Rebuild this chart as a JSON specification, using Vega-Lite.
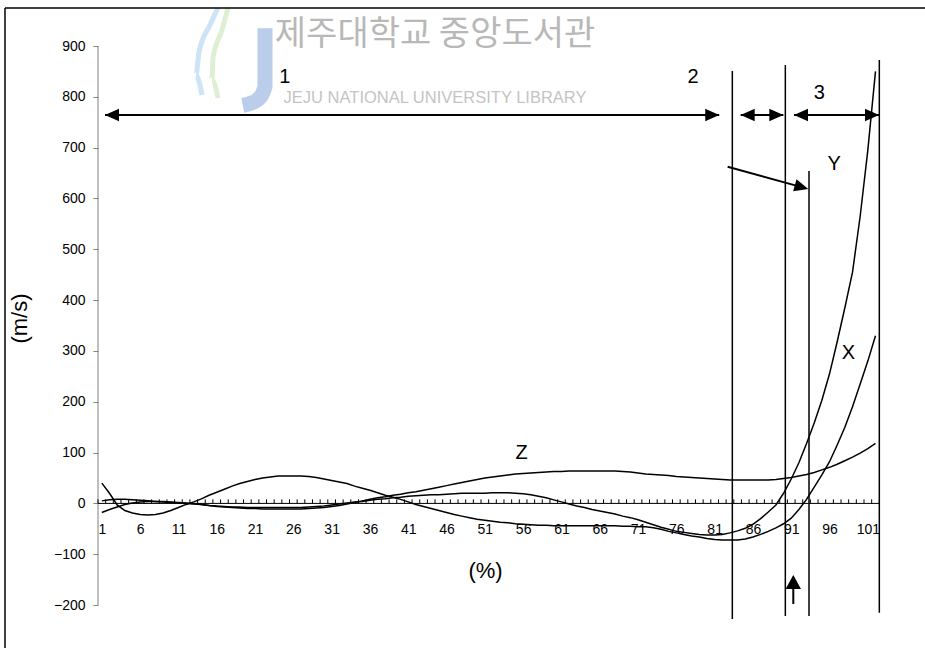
{
  "$schema": "https://vega.github.io/schema/vega-lite/v6.json",
  "width": 920,
  "height": 640,
  "autosize": {"type": "none"},
  "padding": {"left": 5, "top": 8, "right": 0, "bottom": 0},
  "background": "#ffffff",
  "config": {"view": {"stroke": null}, "font": "Liberation Sans", "axis": {"grid": false}},
  "datasets": {
    "curves": [
      {"s":"X","x":1,"y":40},{"s":"X","x":2,"y":20},{"s":"X","x":3,"y":-3},{"s":"X","x":4,"y":-14},{"s":"X","x":5,"y":-19},{"s":"X","x":6,"y":-22},{"s":"X","x":7,"y":-23},{"s":"X","x":8,"y":-22},{"s":"X","x":9,"y":-19},{"s":"X","x":10,"y":-14},
      {"s":"X","x":11,"y":-8},{"s":"X","x":12,"y":-2},{"s":"X","x":13,"y":3},{"s":"X","x":14,"y":9},{"s":"X","x":15,"y":16},{"s":"X","x":16,"y":22},{"s":"X","x":17,"y":28},{"s":"X","x":18,"y":34},{"s":"X","x":19,"y":39},{"s":"X","x":20,"y":43},
      {"s":"X","x":21,"y":47},{"s":"X","x":22,"y":50},{"s":"X","x":23,"y":52},{"s":"X","x":24,"y":54},{"s":"X","x":25,"y":54},{"s":"X","x":26,"y":54},{"s":"X","x":27,"y":54},{"s":"X","x":28,"y":53},{"s":"X","x":29,"y":51},{"s":"X","x":30,"y":48},
      {"s":"X","x":31,"y":45},{"s":"X","x":32,"y":42},{"s":"X","x":33,"y":39},{"s":"X","x":34,"y":34},{"s":"X","x":35,"y":30},{"s":"X","x":36,"y":26},{"s":"X","x":37,"y":21},{"s":"X","x":38,"y":16},{"s":"X","x":39,"y":12},{"s":"X","x":40,"y":8},
      {"s":"X","x":41,"y":3},{"s":"X","x":42,"y":-2},{"s":"X","x":43,"y":-6},{"s":"X","x":44,"y":-10},{"s":"X","x":45,"y":-14},{"s":"X","x":46,"y":-18},{"s":"X","x":47,"y":-22},{"s":"X","x":48,"y":-25},{"s":"X","x":49,"y":-28},{"s":"X","x":50,"y":-31},
      {"s":"X","x":51,"y":-33},{"s":"X","x":52,"y":-35},{"s":"X","x":53,"y":-37},{"s":"X","x":54,"y":-38},{"s":"X","x":55,"y":-40},{"s":"X","x":56,"y":-41},{"s":"X","x":57,"y":-42},{"s":"X","x":58,"y":-43},{"s":"X","x":59,"y":-43},{"s":"X","x":60,"y":-44},
      {"s":"X","x":61,"y":-44},{"s":"X","x":62,"y":-44},{"s":"X","x":63,"y":-44},{"s":"X","x":64,"y":-44},{"s":"X","x":65,"y":-44},{"s":"X","x":66,"y":-44},{"s":"X","x":67,"y":-44},{"s":"X","x":68,"y":-44},{"s":"X","x":69,"y":-45},{"s":"X","x":70,"y":-45},
      {"s":"X","x":71,"y":-46},{"s":"X","x":72,"y":-46},{"s":"X","x":73,"y":-48},{"s":"X","x":74,"y":-51},{"s":"X","x":75,"y":-55},{"s":"X","x":76,"y":-58},{"s":"X","x":77,"y":-61},{"s":"X","x":78,"y":-64},{"s":"X","x":79,"y":-66},{"s":"X","x":80,"y":-69},
      {"s":"X","x":81,"y":-71},{"s":"X","x":82,"y":-72},{"s":"X","x":83,"y":-72},{"s":"X","x":84,"y":-72},{"s":"X","x":85,"y":-70},{"s":"X","x":86,"y":-66},{"s":"X","x":87,"y":-61},{"s":"X","x":88,"y":-55},{"s":"X","x":89,"y":-48},{"s":"X","x":90,"y":-40},
      {"s":"X","x":91,"y":-29},{"s":"X","x":92,"y":-12},{"s":"X","x":93,"y":8},{"s":"X","x":94,"y":32},{"s":"X","x":95,"y":56},{"s":"X","x":96,"y":82},{"s":"X","x":97,"y":115},{"s":"X","x":98,"y":150},{"s":"X","x":99,"y":190},{"s":"X","x":100,"y":235},
      {"s":"X","x":101,"y":280},{"s":"X","x":102,"y":330},
      {"s":"Y","x":1,"y":5},{"s":"Y","x":2,"y":7},{"s":"Y","x":3,"y":8},{"s":"Y","x":4,"y":8},{"s":"Y","x":5,"y":7},{"s":"Y","x":6,"y":6},{"s":"Y","x":7,"y":5},{"s":"Y","x":8,"y":4},{"s":"Y","x":9,"y":3},{"s":"Y","x":10,"y":2},
      {"s":"Y","x":11,"y":1},{"s":"Y","x":12,"y":0},{"s":"Y","x":13,"y":-1},{"s":"Y","x":14,"y":-2},{"s":"Y","x":15,"y":-4},{"s":"Y","x":16,"y":-5},{"s":"Y","x":17,"y":-6},{"s":"Y","x":18,"y":-7},{"s":"Y","x":19,"y":-7},{"s":"Y","x":20,"y":-8},
      {"s":"Y","x":21,"y":-8},{"s":"Y","x":22,"y":-8},{"s":"Y","x":23,"y":-8},{"s":"Y","x":24,"y":-8},{"s":"Y","x":25,"y":-8},{"s":"Y","x":26,"y":-8},{"s":"Y","x":27,"y":-8},{"s":"Y","x":28,"y":-7},{"s":"Y","x":29,"y":-6},{"s":"Y","x":30,"y":-5},
      {"s":"Y","x":31,"y":-3},{"s":"Y","x":32,"y":-1},{"s":"Y","x":33,"y":1},{"s":"Y","x":34,"y":3},{"s":"Y","x":35,"y":4},{"s":"Y","x":36,"y":6},{"s":"Y","x":37,"y":8},{"s":"Y","x":38,"y":9},{"s":"Y","x":39,"y":11},{"s":"Y","x":40,"y":12},
      {"s":"Y","x":41,"y":14},{"s":"Y","x":42,"y":15},{"s":"Y","x":43,"y":16},{"s":"Y","x":44,"y":17},{"s":"Y","x":45,"y":17},{"s":"Y","x":46,"y":18},{"s":"Y","x":47,"y":19},{"s":"Y","x":48,"y":20},{"s":"Y","x":49,"y":20},{"s":"Y","x":50,"y":20},
      {"s":"Y","x":51,"y":20},{"s":"Y","x":52,"y":21},{"s":"Y","x":53,"y":21},{"s":"Y","x":54,"y":21},{"s":"Y","x":55,"y":20},{"s":"Y","x":56,"y":19},{"s":"Y","x":57,"y":17},{"s":"Y","x":58,"y":14},{"s":"Y","x":59,"y":11},{"s":"Y","x":60,"y":7},
      {"s":"Y","x":61,"y":3},{"s":"Y","x":62,"y":-1},{"s":"Y","x":63,"y":-5},{"s":"Y","x":64,"y":-8},{"s":"Y","x":65,"y":-12},{"s":"Y","x":66,"y":-15},{"s":"Y","x":67,"y":-18},{"s":"Y","x":68,"y":-21},{"s":"Y","x":69,"y":-25},{"s":"Y","x":70,"y":-28},
      {"s":"Y","x":71,"y":-32},{"s":"Y","x":72,"y":-37},{"s":"Y","x":73,"y":-42},{"s":"Y","x":74,"y":-47},{"s":"Y","x":75,"y":-51},{"s":"Y","x":76,"y":-55},{"s":"Y","x":77,"y":-57},{"s":"Y","x":78,"y":-59},{"s":"Y","x":79,"y":-61},{"s":"Y","x":80,"y":-62},
      {"s":"Y","x":81,"y":-62},{"s":"Y","x":82,"y":-61},{"s":"Y","x":83,"y":-58},{"s":"Y","x":84,"y":-54},{"s":"Y","x":85,"y":-49},{"s":"Y","x":86,"y":-41},{"s":"Y","x":87,"y":-30},{"s":"Y","x":88,"y":-17},{"s":"Y","x":89,"y":-3},{"s":"Y","x":90,"y":20},
      {"s":"Y","x":91,"y":48},{"s":"Y","x":92,"y":80},{"s":"Y","x":93,"y":118},{"s":"Y","x":94,"y":158},{"s":"Y","x":95,"y":203},{"s":"Y","x":96,"y":255},{"s":"Y","x":97,"y":318},{"s":"Y","x":98,"y":385},{"s":"Y","x":99,"y":455},{"s":"Y","x":100,"y":565},
      {"s":"Y","x":101,"y":695},{"s":"Y","x":102,"y":850},
      {"s":"Z","x":1,"y":-18},{"s":"Z","x":2,"y":-12},{"s":"Z","x":3,"y":-7},{"s":"Z","x":4,"y":-2},{"s":"Z","x":5,"y":1},{"s":"Z","x":6,"y":3},{"s":"Z","x":7,"y":4},{"s":"Z","x":8,"y":4},{"s":"Z","x":9,"y":4},{"s":"Z","x":10,"y":3},
      {"s":"Z","x":11,"y":2},{"s":"Z","x":12,"y":1},{"s":"Z","x":13,"y":0},{"s":"Z","x":14,"y":-2},{"s":"Z","x":15,"y":-4},{"s":"Z","x":16,"y":-6},{"s":"Z","x":17,"y":-7},{"s":"Z","x":18,"y":-8},{"s":"Z","x":19,"y":-9},{"s":"Z","x":20,"y":-10},
      {"s":"Z","x":21,"y":-10},{"s":"Z","x":22,"y":-11},{"s":"Z","x":23,"y":-11},{"s":"Z","x":24,"y":-11},{"s":"Z","x":25,"y":-11},{"s":"Z","x":26,"y":-11},{"s":"Z","x":27,"y":-11},{"s":"Z","x":28,"y":-10},{"s":"Z","x":29,"y":-9},{"s":"Z","x":30,"y":-8},
      {"s":"Z","x":31,"y":-6},{"s":"Z","x":32,"y":-4},{"s":"Z","x":33,"y":-1},{"s":"Z","x":34,"y":2},{"s":"Z","x":35,"y":5},{"s":"Z","x":36,"y":8},{"s":"Z","x":37,"y":11},{"s":"Z","x":38,"y":13},{"s":"Z","x":39,"y":16},{"s":"Z","x":40,"y":18},
      {"s":"Z","x":41,"y":21},{"s":"Z","x":42,"y":23},{"s":"Z","x":43,"y":26},{"s":"Z","x":44,"y":29},{"s":"Z","x":45,"y":32},{"s":"Z","x":46,"y":35},{"s":"Z","x":47,"y":38},{"s":"Z","x":48,"y":41},{"s":"Z","x":49,"y":44},{"s":"Z","x":50,"y":47},
      {"s":"Z","x":51,"y":50},{"s":"Z","x":52,"y":52},{"s":"Z","x":53,"y":54},{"s":"Z","x":54,"y":56},{"s":"Z","x":55,"y":58},{"s":"Z","x":56,"y":59},{"s":"Z","x":57,"y":60},{"s":"Z","x":58,"y":61},{"s":"Z","x":59,"y":62},{"s":"Z","x":60,"y":63},
      {"s":"Z","x":61,"y":63},{"s":"Z","x":62,"y":64},{"s":"Z","x":63,"y":64},{"s":"Z","x":64,"y":64},{"s":"Z","x":65,"y":64},{"s":"Z","x":66,"y":64},{"s":"Z","x":67,"y":64},{"s":"Z","x":68,"y":64},{"s":"Z","x":69,"y":63},{"s":"Z","x":70,"y":62},
      {"s":"Z","x":71,"y":60},{"s":"Z","x":72,"y":58},{"s":"Z","x":73,"y":57},{"s":"Z","x":74,"y":56},{"s":"Z","x":75,"y":55},{"s":"Z","x":76,"y":53},{"s":"Z","x":77,"y":52},{"s":"Z","x":78,"y":51},{"s":"Z","x":79,"y":50},{"s":"Z","x":80,"y":49},
      {"s":"Z","x":81,"y":48},{"s":"Z","x":82,"y":47},{"s":"Z","x":83,"y":46},{"s":"Z","x":84,"y":46},{"s":"Z","x":85,"y":46},{"s":"Z","x":86,"y":46},{"s":"Z","x":87,"y":46},{"s":"Z","x":88,"y":46},{"s":"Z","x":89,"y":47},{"s":"Z","x":90,"y":49},
      {"s":"Z","x":91,"y":51},{"s":"Z","x":92,"y":54},{"s":"Z","x":93,"y":57},{"s":"Z","x":94,"y":61},{"s":"Z","x":95,"y":66},{"s":"Z","x":96,"y":71},{"s":"Z","x":97,"y":77},{"s":"Z","x":98,"y":84},{"s":"Z","x":99,"y":91},{"s":"Z","x":100,"y":99},
      {"s":"Z","x":101,"y":108},{"s":"Z","x":102,"y":118}
    ],
    "xticks": [
      {"x":0.5,"y":0},{"x":1.5,"y":0},{"x":2.5,"y":0},{"x":3.5,"y":0},{"x":4.5,"y":0},{"x":5.5,"y":0},{"x":6.5,"y":0},{"x":7.5,"y":0},{"x":8.5,"y":0},{"x":9.5,"y":0},{"x":10.5,"y":0},
      {"x":11.5,"y":0},{"x":12.5,"y":0},{"x":13.5,"y":0},{"x":14.5,"y":0},{"x":15.5,"y":0},{"x":16.5,"y":0},{"x":17.5,"y":0},{"x":18.5,"y":0},{"x":19.5,"y":0},{"x":20.5,"y":0},
      {"x":21.5,"y":0},{"x":22.5,"y":0},{"x":23.5,"y":0},{"x":24.5,"y":0},{"x":25.5,"y":0},{"x":26.5,"y":0},{"x":27.5,"y":0},{"x":28.5,"y":0},{"x":29.5,"y":0},{"x":30.5,"y":0},
      {"x":31.5,"y":0},{"x":32.5,"y":0},{"x":33.5,"y":0},{"x":34.5,"y":0},{"x":35.5,"y":0},{"x":36.5,"y":0},{"x":37.5,"y":0},{"x":38.5,"y":0},{"x":39.5,"y":0},{"x":40.5,"y":0},
      {"x":41.5,"y":0},{"x":42.5,"y":0},{"x":43.5,"y":0},{"x":44.5,"y":0},{"x":45.5,"y":0},{"x":46.5,"y":0},{"x":47.5,"y":0},{"x":48.5,"y":0},{"x":49.5,"y":0},{"x":50.5,"y":0},
      {"x":51.5,"y":0},{"x":52.5,"y":0},{"x":53.5,"y":0},{"x":54.5,"y":0},{"x":55.5,"y":0},{"x":56.5,"y":0},{"x":57.5,"y":0},{"x":58.5,"y":0},{"x":59.5,"y":0},{"x":60.5,"y":0},
      {"x":61.5,"y":0},{"x":62.5,"y":0},{"x":63.5,"y":0},{"x":64.5,"y":0},{"x":65.5,"y":0},{"x":66.5,"y":0},{"x":67.5,"y":0},{"x":68.5,"y":0},{"x":69.5,"y":0},{"x":70.5,"y":0},
      {"x":71.5,"y":0},{"x":72.5,"y":0},{"x":73.5,"y":0},{"x":74.5,"y":0},{"x":75.5,"y":0},{"x":76.5,"y":0},{"x":77.5,"y":0},{"x":78.5,"y":0},{"x":79.5,"y":0},{"x":80.5,"y":0},
      {"x":81.5,"y":0},{"x":82.5,"y":0},{"x":83.5,"y":0},{"x":84.5,"y":0},{"x":85.5,"y":0},{"x":86.5,"y":0},{"x":87.5,"y":0},{"x":88.5,"y":0},{"x":89.5,"y":0},{"x":90.5,"y":0},
      {"x":91.5,"y":0},{"x":92.5,"y":0},{"x":93.5,"y":0},{"x":94.5,"y":0},{"x":95.5,"y":0},{"x":96.5,"y":0},{"x":97.5,"y":0},{"x":98.5,"y":0},{"x":99.5,"y":0},{"x":100.5,"y":0},
      {"x":101.5,"y":0},{"x":102.5,"y":0}
    ],
    "frame": [
      {"x": -11.641, "x2": -11.641, "y": -284.5, "y2": 974.8},
      {"x": -11.641, "x2": 108.463, "y": 974.8, "y2": 974.8}
    ],
    "yaxisline": [{"x": 0.5, "x2": 0.5, "y": -200, "y2": 900}],
    "xaxisline": [{"x": 0.5, "x2": 102.5, "y": 0, "y2": 0}],
    "vlines": [
      {"x": 83.31, "x2": 83.31, "y": -227.5, "y2": 850.9},
      {"x": 90.23, "x2": 90.23, "y": -221.6, "y2": 862.7},
      {"x": 93.32, "x2": 93.32, "y": -221.6, "y2": 654.1},
      {"x": 102.5, "x2": 102.5, "y": -215.1, "y2": 872.5}
    ],
    "shafts": [
      {"x": 1.41, "x2": 81.6, "y": 764.3, "y2": 764.3},
      {"x": 84.4, "x2": 89.97, "y": 764.3, "y2": 764.3},
      {"x": 91.36, "x2": 102.46, "y": 764.3, "y2": 764.3},
      {"x": 82.7, "x2": 92.6, "y": 662.6, "y2": 621.3},
      {"x": 91.27, "x2": 91.27, "y": -198, "y2": -145}
    ],
    "heads": [
      {"x": 1.41, "y": 764.3, "dir": "left"},
      {"x": 81.6, "y": 764.3, "dir": "right"},
      {"x": 84.4, "y": 764.3, "dir": "left"},
      {"x": 89.97, "y": 764.3, "dir": "right"},
      {"x": 91.36, "y": 764.3, "dir": "left"},
      {"x": 102.46, "y": 764.3, "dir": "right"},
      {"x": 91.27, "y": -140.9, "dir": "up"}
    ],
    "diaghead": [{"x": 93.23, "y": 618.7}],
    "ann": [
      {"x": 24.9, "y": 839, "t": "1"},
      {"x": 78.2, "y": 839, "t": "2"},
      {"x": 94.67, "y": 807, "t": "3"},
      {"x": 96.6, "y": 668, "t": "Y"},
      {"x": 98.45, "y": 296.5, "t": "X"},
      {"x": 55.8, "y": 98.6, "t": "Z"}
    ],
    "wmk": [{"x": 44.5, "y": 921, "t": "제주대학교 중앙도서관"}],
    "wme": [{"x": 44.5, "y": 797, "t": "JEJU NATIONAL UNIVERSITY LIBRARY"}],
    "logoj": [
      {"p": 1, "x": 22.3, "y": 935},
      {"p": 2, "x": 22.3, "y": 820},
      {"p": 3, "x": 21.4, "y": 795},
      {"p": 4, "x": 19.4, "y": 783}
    ],
    "swoosh": [
      {"k": "b", "p": 1, "x": 16.17, "y": 975},
      {"k": "b", "p": 2, "x": 15.12, "y": 941.4},
      {"k": "b", "p": 3, "x": 13.69, "y": 888.2},
      {"k": "b", "p": 4, "x": 13.29, "y": 843.0},
      {"k": "b", "p": 5, "x": 14.08, "y": 803.6},
      {"k": "g", "p": 1, "x": 17.47, "y": 975},
      {"k": "g", "p": 2, "x": 16.69, "y": 931.6},
      {"k": "g", "p": 3, "x": 15.51, "y": 876.5},
      {"k": "g", "p": 4, "x": 15.38, "y": 833.2},
      {"k": "g", "p": 5, "x": 16.17, "y": 797.8}
    ]
  },
  "encoding": {
    "x": {
      "field": "x", "type": "quantitative",
      "scale": {"domain": [-11.641, 108.463], "nice": false, "zero": false},
      "axis": {
        "orient": "bottom", "offset": -144.6, "domain": false, "grid": false, "ticks": false,
        "values": [1,6,11,16,21,26,31,36,41,46,51,56,61,66,71,76,81,86,91,96,101],
        "labelFontSize": 14, "labelColor": "#000000", "labelPadding": 19,
        "labelOverlap": false, "labelFlush": false, "labelBound": false,
        "title": "(%)", "titleFontSize": 22, "titleFontWeight": "normal", "titleColor": "#000000", "titlePadding": 24, "titleX": 480
      }
    },
    "y": {
      "field": "y", "type": "quantitative",
      "scale": {"domain": [-284.5, 974.8], "nice": false, "zero": false},
      "axis": {
        "orient": "left", "offset": -93, "domain": false, "grid": false,
        "values": [-200,-100,0,100,200,300,400,500,600,700,800,900],
        "tickSize": 5, "tickColor": "#808080", "tickWidth": 1,
        "labelFontSize": 14, "labelColor": "#000000", "labelPadding": 8,
        "title": "(m/s)", "titleFontSize": 22, "titleFontWeight": "normal", "titleColor": "#000000", "titlePadding": 22, "titleY": 310
      }
    }
  },
  "layer": [
    {"data": {"name": "swoosh"}, "mark": {"type": "line", "strokeWidth": 5, "opacity": 0.45, "interpolate": "monotone"}, "encoding": {"order": {"field": "p"}, "color": {"field": "k", "type": "nominal", "legend": null, "scale": {"domain": ["b", "g"], "range": ["#8fc3ec", "#b9dba0"]}}}},
    {"data": {"name": "logoj"}, "mark": {"type": "line", "strokeWidth": 15, "color": "#a9c0e6", "opacity": 0.8, "interpolate": "monotone", "strokeCap": "butt"}, "encoding": {"order": {"field": "p"}}},
    {"data": {"name": "wmk"}, "mark": {"type": "text", "fontSize": 34, "fontWeight": "normal", "font": "Noto Sans CJK KR", "color": "#b8b8b8", "align": "center", "baseline": "middle"}, "encoding": {"text": {"field": "t"}}},
    {"data": {"name": "wme"}, "mark": {"type": "text", "fontSize": 16.5, "color": "#c4c4c4", "align": "center", "baseline": "middle"}, "encoding": {"text": {"field": "t"}}},
    {"data": {"name": "frame"}, "mark": {"type": "rule", "color": "#000000", "strokeWidth": 1.5}, "encoding": {"x2": {"field": "x2"}, "y2": {"field": "y2"}}},
    {"data": {"name": "yaxisline"}, "mark": {"type": "rule", "color": "#808080", "strokeWidth": 1}, "encoding": {"x2": {"field": "x2"}, "y2": {"field": "y2"}}},
    {"data": {"name": "xaxisline"}, "mark": {"type": "rule", "color": "#000000", "strokeWidth": 1}, "encoding": {"x2": {"field": "x2"}, "y2": {"field": "y2"}}},
    {"data": {"name": "xticks"}, "mark": {"type": "rule", "color": "#000000", "strokeWidth": 1}, "encoding": {"y2": {"datum": 8}}},
    {"data": {"name": "curves"}, "mark": {"type": "line", "color": "#000000", "strokeWidth": 1.5}, "encoding": {"detail": {"field": "s"}}},
    {"data": {"name": "vlines"}, "mark": {"type": "rule", "color": "#000000", "strokeWidth": 1.5}, "encoding": {"x2": {"field": "x2"}, "y2": {"field": "y2"}}},
    {"data": {"name": "shafts"}, "mark": {"type": "rule", "color": "#000000", "strokeWidth": 2}, "encoding": {"x2": {"field": "x2"}, "y2": {"field": "y2"}}},
    {"data": {"name": "heads"}, "mark": {"type": "point", "filled": true, "size": 196, "color": "#000000", "opacity": 1}, "encoding": {"shape": {"field": "dir", "type": "nominal", "legend": null, "scale": {"domain": ["left", "right", "up"], "range": ["M0,0 L2,-0.9 L2,0.9 Z", "M0,0 L-2,-0.9 L-2,0.9 Z", "M0,0 L-1.1,2 L1.1,2 Z"]}}}},
    {"data": {"name": "diaghead"}, "mark": {"type": "point", "filled": true, "size": 196, "color": "#000000", "opacity": 1, "shape": "M0,0 L-2,-0.9 L-2,0.9 Z", "angle": 15.5}},
    {"data": {"name": "ann"}, "mark": {"type": "text", "fontSize": 20, "color": "#000000", "align": "center", "baseline": "middle"}, "encoding": {"text": {"field": "t"}}}
  ]
}
